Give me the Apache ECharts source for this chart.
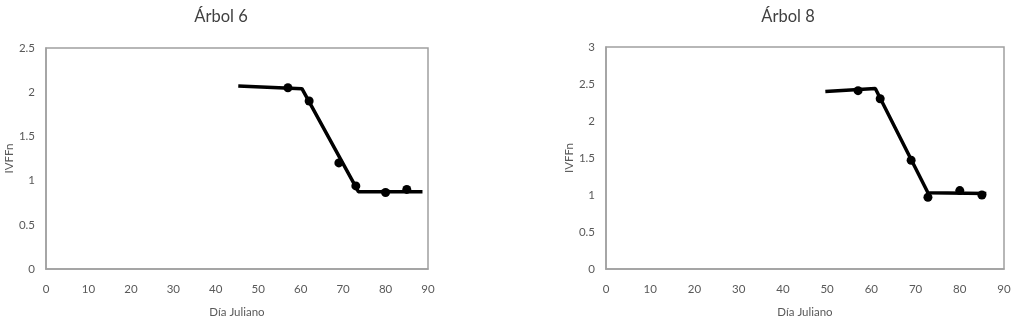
<!DOCTYPE html>
<html><head><meta charset="utf-8">
<script src="https://cdn.jsdelivr.net/npm/echarts@6/dist/echarts.min.js"></script>
<style>html,body{margin:0;padding:0;background:#fff}#c{width:1018px;height:325px}</style>
</head><body><div id="c"></div>
<script>
const titles = ["Árbol 6", "Árbol 8"];
const xTicks = [0, 10, 20, 30, 40, 50, 60, 70, 80, 90];
const a6DayObs = [57, 62, 69, 73, 80, 85];
const a6ValObs = [2.05, 1.90, 1.20, 0.94, 0.865, 0.90];
const a6DayFit = [45.3, 60.3, 73.6, 88.7];
const a6ValFit = [2.07, 2.04, 0.875, 0.875];
const a8DayObs = [57, 62, 69, 72.8, 80, 85];
const a8ValObs = [2.41, 2.30, 1.47, 0.97, 1.06, 1.00];
const a8DayFit = [49.6, 60.9, 72.8, 86];
const a8ValFit = [2.40, 2.44, 1.03, 1.02];
const yMax = [2.5, 3];

const zip = (a, b) => a.map((v, i) => [v, b[i]]);
const font = 'Lato, "Open Sans", sans-serif';
const grids = [
  {left: 46, top: 48, width: 382, height: 221},
  {left: 606, top: 47, width: 398, height: 222}
];
const opt = {
  animation: false,
  title: titles.map((t, i) => ({
    text: t, left: i === 0 ? 216 : 783, top: 3, textAlign: 'center',
    textStyle: {fontFamily: font, fontSize: 16.5, fontWeight: 'normal', color: '#404040'}
  })),
  grid: grids.map(g => Object.assign({show: true, borderColor: '#a0a0a0', borderWidth: 1.5, backgroundColor: '#fff'}, g)),
  xAxis: [0, 1].map(i => ({
    type: 'value', gridIndex: i, min: 0, max: 90, interval: 10,
    name: 'Día Juliano', nameLocation: 'middle', nameGap: 37,
    nameTextStyle: {fontFamily: font, fontSize: 11.5, color: '#595959'},
    axisLine: {show: true, lineStyle: {color: '#a0a0a0', width: 1.5}},
    axisTick: {show: false}, splitLine: {show: false},
    axisLabel: {fontFamily: font, fontSize: 11.5, color: '#595959', margin: 14,
      formatter: v => xTicks.includes(v) ? String(v) : ''}
  })),
  yAxis: [0, 1].map(i => ({
    type: 'value', gridIndex: i, min: 0, max: yMax[i], interval: 0.5,
    name: 'IVFFn', nameLocation: 'middle', nameGap: 30,
    nameTextStyle: {fontFamily: font, fontSize: 11.5, color: '#595959'},
    axisLine: {show: true, lineStyle: {color: '#a0a0a0', width: 1.5}},
    axisTick: {show: false}, splitLine: {show: false},
    axisLabel: {fontFamily: font, fontSize: 11.5, color: '#595959', margin: 11}
  })),
  series: [
    {type: 'line', xAxisIndex: 0, yAxisIndex: 0, data: zip(a6DayFit, a6ValFit), showSymbol: false,
      lineStyle: {color: '#000', width: 3.5}, z: 2},
    {type: 'scatter', xAxisIndex: 0, yAxisIndex: 0, data: zip(a6DayObs, a6ValObs), symbolSize: 9,
      itemStyle: {color: '#000', opacity: 1}, z: 3},
    {type: 'line', xAxisIndex: 1, yAxisIndex: 1, data: zip(a8DayFit, a8ValFit), showSymbol: false,
      lineStyle: {color: '#000', width: 3.5}, z: 2},
    {type: 'scatter', xAxisIndex: 1, yAxisIndex: 1, data: zip(a8DayObs, a8ValObs), symbolSize: 9,
      itemStyle: {color: '#000', opacity: 1}, z: 3}
  ]
};
echarts.init(document.getElementById('c')).setOption(opt);
</script></body></html>
